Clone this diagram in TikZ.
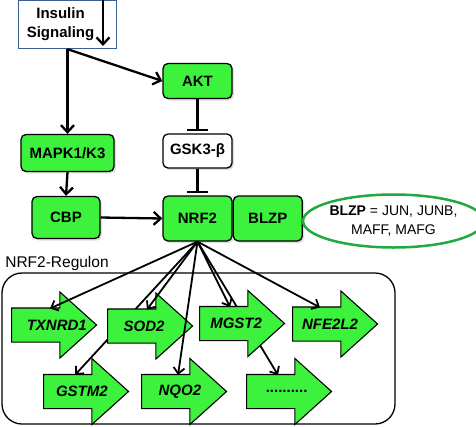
\documentclass[tikz,border=0pt]{standalone}
\usepackage{fontspec}
\setmainfont{Liberation Sans}
\usetikzlibrary{arrows.meta, positioning, shapes.arrows, shapes.geometric, shadows, calc}

\definecolor{nrfgreen}{RGB}{60,242,60}
\definecolor{ovalgreen}{RGB}{34,168,64}
\definecolor{sigblue}{RGB}{60,95,145}

\begin{document}
\begin{tikzpicture}[
    x=1pt, y=-1pt,
    % Define protein box style
    protein/.style={
        draw, % Draw border
        rectangle, rounded corners=5pt, % Rounded box
        fill=nrfgreen,
        line width=1.3pt,
        inner sep=0pt,
        font=\fontsize{15}{17}\selectfont\bfseries,
        drop shadow={shadow xshift=2pt, shadow yshift=-2pt, opacity=0.25}
      },
    % Define gene arrow style
    gene/.style={
        single arrow, draw, fill=nrfgreen,
        line width=1.1pt,
        minimum height=85pt,
        inner xsep=0pt, inner ysep=16.5pt,
        single arrow head extend=16pt,
        single arrow tip angle=84,
        anchor=tail
      },
    genetext/.style={font=\fontsize{15}{17}\selectfont\bfseries\itshape},
    % Define arrow styles
    act/.style={-{Straight Barb[length=7pt,width=13pt]}, line width=2.3pt},
    fan/.style={-{Straight Barb[length=6pt,width=11pt]}, line width=1.8pt},
    inhib/.style={-{Bar[width=21pt,line width=2.5pt]}, line width=2.3pt, shorten >=2pt}
  ]

  \useasboundingbox (0,0) rectangle (476,426);

  % Signalling box
  \node[draw=sigblue, line width=1.3pt, minimum width=98pt, minimum height=48pt,
        label={[font=\fontsize{15}{19}\selectfont\bfseries, align=center, xshift=-7pt]center:Insulin\\Signaling}]
        (ins) at (67.5,24.5) {};
  \coordinate (sigtop) at (103,0);
  \coordinate (sigend) at (103,46);
  \draw[act] (sigtop) -- (sigend);

  % Protein nodes
  \node[protein, minimum width=69pt, minimum height=35pt] (akt) at (197.5,81) {AKT};
  \node[protein, fill=white, minimum width=69pt, minimum height=34pt] (gsk) at (197.5,151) {GSK3-β};
  \node[protein, minimum width=93pt, minimum height=37pt] (mapk) at (67.5,153) {MAPK1/K3};
  \node[protein, minimum width=68pt, minimum height=42pt] (cbp) at (66,217.5) {CBP};
  \node[protein, minimum width=69pt, minimum height=45pt] (nrf) at (197.5,218.5) {NRF2};
  \node[protein, minimum width=69pt, minimum height=45pt, right=0pt of nrf] (blzp) {BLZP};

  % BLZP legend
  \node[draw=ovalgreen, line width=2.5pt, ellipse, minimum width=162pt, minimum height=53pt,
        inner sep=0pt, align=center, font=\fontsize{14}{19}\selectfont]
        (legend) at (393.5,221) {\textbf{BLZP} = JUN, JUNB,\\MAFF, MAFG};

  % Upstream edges
  \draw[act] (ins.south) -- (mapk.north);
  \draw[act] (ins.south) -- (akt.west);
  \draw[inhib] (akt.south) -- (gsk.north);
  \draw[inhib] (gsk.south) -- (nrf.north);
  \draw[act] (mapk.south) -- (cbp.north);
  \draw[act] (cbp.east) -- (nrf.west);

  % Regulon frame
  \node[font=\fontsize{15.5}{17}\selectfont] (regulon) at (57,263) {NRF2-Regulon};
  \draw[line width=1.3pt, rounded corners=20pt] (2,273) rectangle (395,424);

  % Genes in the bottom row
  \node[gene] (gstm) at (43,391.5) {};
  \node[gene] (nqo) at (141,391.5) {};
  \node[gene] (dots) at (246,391.5) {};
  \node[genetext] (gstmlbl) at ($(gstm.tail)!0.45!(gstm.tip)$) {GSTM2};
  \node[genetext] (nqolbl) at ($(nqo.tail)!0.45!(nqo.tip)$) {NQO2};
  \node[font=\fontsize{15}{17}\selectfont\bfseries] (dotslbl) at ($(dots.tail)!0.47!(dots.tip)$) {..........};

  % these two run behind SOD2 and MGST2
  \draw[fan] (nrf.south) -- ([shift={(32pt,16.5pt)}]gstm.tail);
  \draw[fan] (nrf.south) -- ([shift={(32pt,16.5pt)}]dots.tail);

  % Genes in the top row
  \node[gene] (txn) at (11,325) {};
  \node[gene] (sod) at (107,326) {};
  \node[gene] (mgst) at (199,323.5) {};
  \node[gene] (nfe) at (292,324) {};
  \node[genetext] (txnlbl) at ($(txn.tail)!0.53!(txn.tip)$) {TXNRD1};
  \node[genetext] (sodlbl) at ($(sod.tail)!0.43!(sod.tip)$) {SOD2};
  \node[genetext] (mgstlbl) at ($(mgst.tail)!0.43!(mgst.tip)$) {MGST2};
  \node[genetext] (nfelbl) at ($(nfe.tail)!0.44!(nfe.tip)$) {NFE2L2};

  % NRF2 targets
  \draw[fan] (nrf.south) -- ([shift={(39pt,16.5pt)}]txn.tail);
  \draw[fan] (nrf.south) -- ([shift={(40pt,16.5pt)}]sod.tail);
  \draw[fan] (nrf.south) -- ([shift={(37pt,16.5pt)}]nqo.tail);
  \draw[fan] (nrf.south) -- ([shift={(31pt,16.5pt)}]mgst.tail);
  \draw[fan] (nrf.south) -- ([shift={(28pt,16.5pt)}]nfe.tail);

\end{tikzpicture}
\end{document}
